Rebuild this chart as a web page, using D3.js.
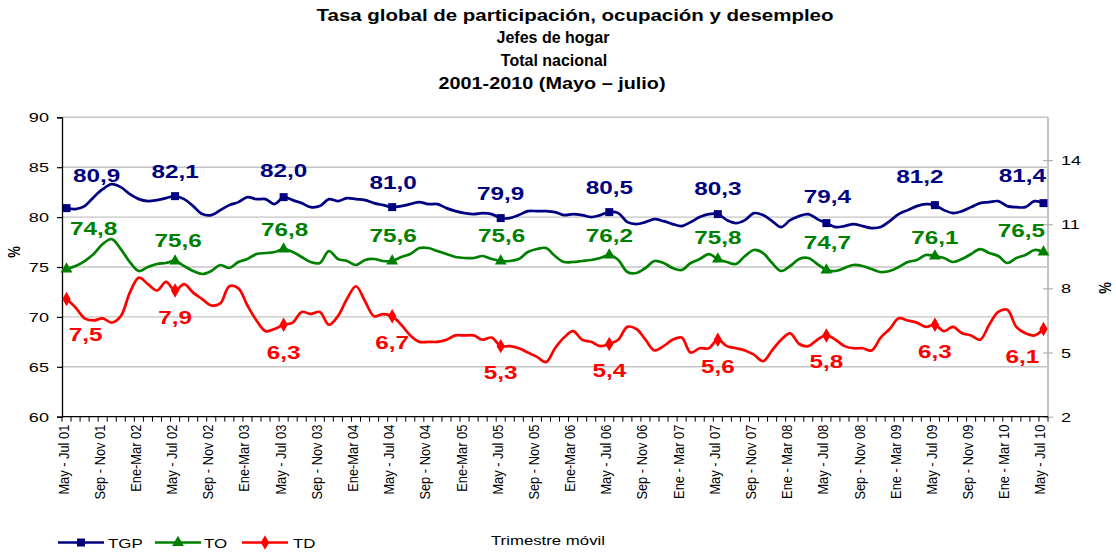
<!DOCTYPE html>
<html><head><meta charset="utf-8">
<script src="https://cdn.jsdelivr.net/npm/d3@7"></script>
<style>body{margin:0;background:#fff}svg{display:block}</style>
</head><body><svg id="c" width="1116" height="552"></svg>
<script>
const titleLines = ["Tasa global de participación, ocupación y desempleo", "Jefes de hogar", "Total nacional", "2001-2010 (Mayo – julio)"];
const tickLabels = ["May - Jul 01","Sep - Nov 01","Ene-Mar 02","May - Jul 02","Sep - Nov 02","Ene-Mar 03","May - Jul 03","Sep - Nov 03","Ene-Mar 04","May - Jul 04","Sep - Nov 04","Ene-Mar 05","May - Jul 05","Sep - Nov 05","Ene-Mar 06","May - Jul 06","Sep - Nov 06","Ene - Mar 07","May - Jul 07","Sep - Nov 07","Ene - Mar 08","May - Jul 08","Sep - Nov 08","Ene - Mar 09","May - Jul 09","Sep - Nov 09","Ene - Mar 10","May - Jul 10"];
const seriesNames = ["TGP", "TO", "TD"];
const tgp = [80.9,80.8,81.1,82.0,82.8,83.3,83.0,82.3,81.8,81.6,81.7,81.9,
 82.1,81.8,81.1,80.3,80.2,80.7,81.2,81.5,82.0,81.8,81.8,81.3,
 82.0,81.7,81.4,81.0,81.1,81.8,81.6,81.9,81.8,81.7,81.4,81.2,
 81.0,81.1,81.3,81.5,81.3,81.3,80.9,80.6,80.4,80.3,80.4,80.3,
 79.9,79.9,80.2,80.6,80.6,80.6,80.5,80.2,80.3,80.2,80.0,80.2,
 80.5,80.4,79.5,79.3,79.5,79.8,79.6,79.3,79.1,79.5,80.0,80.3,
 80.3,79.7,79.4,79.7,80.4,80.2,79.6,79.0,79.7,80.1,80.3,79.8,
 79.4,79.0,79.1,79.3,79.1,78.9,79.0,79.6,80.3,80.7,81.1,81.3,
 81.2,80.7,80.4,80.6,81.0,81.4,81.5,81.6,81.1,81.0,81.0,81.6,
 81.4];
const to = [74.8,75.1,75.6,76.3,77.3,77.8,76.8,75.5,74.6,75.0,75.3,75.4,
 75.6,75.1,74.6,74.3,74.6,75.2,74.9,75.5,75.8,76.3,76.4,76.5,
 76.8,76.5,76.0,75.5,75.4,76.6,75.8,75.6,75.2,75.7,75.8,75.6,
 75.6,76.0,76.3,76.9,76.9,76.6,76.3,76.0,75.9,75.9,76.1,75.8,
 75.6,75.6,75.8,76.5,76.8,76.9,76.1,75.5,75.5,75.6,75.7,75.9,
 76.2,75.7,74.5,74.4,74.9,75.6,75.4,74.9,74.7,75.4,75.8,76.3,
 75.8,75.5,75.3,76.1,76.7,76.4,75.4,74.6,75.1,75.8,75.9,75.3,
 74.7,74.6,74.9,75.2,75.1,74.8,74.5,74.6,75.0,75.5,75.7,76.2,
 76.1,75.9,75.5,75.8,76.3,76.8,76.4,76.1,75.4,75.9,76.2,76.7,
 76.5];
const td = [7.5,7.1,6.6,6.5,6.6,6.4,6.7,7.8,8.5,8.2,7.9,8.3,
 7.9,8.2,7.8,7.5,7.2,7.3,8.1,8.0,7.2,6.5,6.0,6.1,
 6.3,6.4,6.9,6.8,6.9,6.3,6.7,7.5,8.1,7.4,6.7,6.8,
 6.7,6.3,5.8,5.5,5.5,5.5,5.6,5.8,5.8,5.8,5.6,5.7,
 5.3,5.3,5.2,5.0,4.8,4.55,5.2,5.7,6.0,5.6,5.5,5.3,
 5.4,5.6,6.2,6.1,5.6,5.1,5.3,5.6,5.7,5.0,5.2,5.2,
 5.6,5.3,5.2,5.1,4.9,4.6,5.1,5.6,5.9,5.4,5.3,5.6,
 5.8,5.6,5.3,5.2,5.2,5.1,5.7,6.1,6.6,6.5,6.4,6.2,
 6.3,6.0,6.2,5.9,5.8,5.6,6.3,6.9,7.0,6.2,5.9,5.8,
 6.1];
const leftTicks = [60,65,70,75,80,85,90];
const rightTicks = [2,5,8,11,14];
const xTitle = "Trimestre móvil";
const yTitle = "%";

// label placement nudges (dx, dy from marker) -- styling only
const nudgeTGP = [[30,-26],[0,-18],[0,-20],[1,-18],[0,-18],[0,-18],[0,-19],[1,-20],[-15,-22],[-21,-21]];
const nudgeTO  = [[27,-34],[3,-14],[1,-13],[1,-19],[1,-19],[0,-13],[0,-15],[1,-21],[0,-12],[-22,-15]];
const nudgeTD  = [[19,42],[0,33],[0,34],[0,33],[0,33],[0,33],[0,33],[0,33],[0,33],[-21,34]];

const FONT = '"Liberation Sans", Arial, sans-serif';
const svg = d3.select('#c');
const L = 62, R = 1048, T = 117.3, B = 416.7;
const n = tgp.length;
const x = d3.scaleBand().domain(d3.range(n)).range([L, R]).paddingInner(0).paddingOuter(0);
const cx = i => x(i) + x.bandwidth() / 2;
const yL = d3.scaleLinear().domain([60, 90]).range([B, T]);
const yR = d3.scaleLinear().domain([2, 16]).range([B, T]);

function stext(g, px, py, str, o) {
  return g.append('text')
    .attr('transform', `translate(${px},${py}) scale(${o.sx || 1},${o.sy || 1})`)
    .attr('text-anchor', o.anchor || 'middle')
    .attr('font-family', FONT)
    .attr('font-size', o.size)
    .attr('font-weight', o.weight || 'normal')
    .attr('fill', o.fill || '#000')
    .text(str);
}

// Title
const tb = [20.5, 43, 65.8, 88.8];
const tcx = [575, 553, 554, 552];
const tsx = [1.28, 1.0, 1.0, 1.24];
titleLines.forEach((t, k) => stext(svg, tcx[k], tb[k], t, {size: 16, weight: 'bold', sx: tsx[k]}));

// gridlines
svg.append('g').selectAll('line').data(leftTicks.slice(1)).join('line')
  .attr('x1', L).attr('x2', R).attr('y1', d => yL(d)).attr('y2', d => yL(d))
  .attr('stroke', '#c4c4c4').attr('stroke-width', 1.4);
// right border
svg.append('line').attr('x1', R).attr('x2', R).attr('y1', T).attr('y2', B)
  .attr('stroke', '#c4c4c4').attr('stroke-width', 2);

// left axis
const gl = svg.append('g').attr('transform', `translate(${L},0)`)
  .call(d3.axisLeft(yL).tickValues(leftTicks).tickSize(5).tickFormat(d3.format('d')));
gl.select('.domain').attr('stroke', '#000').attr('stroke-width', 1.3);
gl.selectAll('.tick line').attr('stroke', '#000').attr('stroke-width', 1.2);
gl.selectAll('.tick text').attr('x', null).attr('dy', null)
  .attr('transform', 'translate(-13,4.5) scale(1.45,1)')
  .attr('font-family', FONT).attr('font-size', 12.5).attr('fill', '#000');

// right axis
const gr = svg.append('g').attr('transform', `translate(${R},0)`)
  .call(d3.axisRight(yR).tickValues(rightTicks).tickSize(5).tickFormat(d3.format('d')));
gr.select('.domain').remove();
gr.selectAll('.tick line').attr('x1', -5).attr('x2', 5).attr('stroke', '#b0b0b0').attr('stroke-width', 1.2);
gr.selectAll('.tick text').attr('x', null).attr('dy', null)
  .attr('transform', 'translate(13,4.5) scale(1.45,1)')
  .attr('font-family', FONT).attr('font-size', 12.5).attr('fill', '#000');

// bottom axis with ticks between categories
const gb = svg.append('g').attr('transform', `translate(0,${B})`)
  .call(d3.axisBottom(x).tickValues(d3.range(0, n, 4)).tickSize(0).tickFormat(i => tickLabels[i / 4]));
gb.select('.domain').attr('d', `M${L},0H${R}`).attr('stroke', '#000').attr('stroke-width', 1.3);
gb.selectAll('.tick text').attr('y', null).attr('dy', null)
  .attr('transform', 'translate(2,8) rotate(-90) scale(1.07,1.25)')
  .attr('text-anchor', 'end')
  .attr('font-family', FONT).attr('font-size', 12).attr('fill', '#000');
svg.append('g').selectAll('line').data(d3.range(n + 1)).join('line')
  .attr('x1', i => i < n ? x(i) : R).attr('x2', i => i < n ? x(i) : R)
  .attr('y1', B).attr('y2', B + 5).attr('stroke', '#000').attr('stroke-width', 1);

// axis titles
stext(svg, 20, 252, yTitle, {size: 13, weight: 'bold'}).attr('transform', 'translate(20,252) rotate(-90) scale(1,1.2)');
stext(svg, 1111, 288, yTitle, {size: 13, weight: 'bold'}).attr('transform', 'translate(1111,288) rotate(-90) scale(1,1.2)');
stext(svg, 548, 545, xTitle, {size: 12, sx: 1.4});

// series
const series = [
  {name: seriesNames[0], data: tgp, y: yL, color: '#000080', shape: d3.symbolSquare, size: 64, nudge: nudgeTGP},
  {name: seriesNames[1], data: to, y: yL, color: '#008000', shape: d3.symbolTriangle, size: 60, nudge: nudgeTO},
  {name: seriesNames[2], data: td, y: yR, color: '#ff0000', shape: d3.symbolDiamond, size: 60, nudge: nudgeTD}
];
const fmt = v => d3.format('.1f')(v).replace('.', ',');
series.forEach(s => {
  const line = d3.line().x((d, i) => cx(i)).y(d => s.y(d)).curve(d3.curveCatmullRom.alpha(0.5));
  svg.append('path').datum(s.data).attr('d', line).attr('fill', 'none')
    .attr('stroke', s.color).attr('stroke-width', 2.7).attr('stroke-linejoin', 'round');
  const idx = d3.range(0, n, 12);
  svg.append('g').selectAll('path').data(idx).join('path')
    .attr('d', d3.symbol(s.shape, s.size))
    .attr('transform', i => `translate(${cx(i)},${s.y(s.data[i])})`)
    .attr('fill', s.color);
  const lg = svg.append('g');
  idx.forEach((i, k) => {
    stext(lg, cx(i) + s.nudge[k][0], s.y(s.data[i]) + s.nudge[k][1], fmt(s.data[i]),
      {size: 18, weight: 'bold', sx: 1.35, fill: s.color});
  });
});

// legend
const legX = [58, 155, 242];
const legTextX = [108, 204, 293];
series.forEach((s, k) => {
  svg.append('line').attr('x1', legX[k]).attr('x2', legX[k] + 46).attr('y1', 542.5).attr('y2', 542.5)
    .attr('stroke', s.color).attr('stroke-width', 2.6);
  svg.append('path').attr('d', d3.symbol(s.shape, s.size)()).attr('transform', `translate(${legX[k] + 23},542.5)`).attr('fill', s.color);
  stext(svg, legTextX[k], 547.5, s.name, {size: 13, sx: 1.3, anchor: 'start'});
});
</script></body></html>
